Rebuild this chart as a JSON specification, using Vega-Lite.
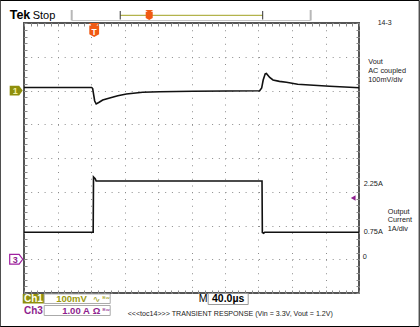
{
 "$schema": "https://vega.github.io/schema/vega-lite/v6.json",
 "width": 335, "height": 270,
 "autosize": {"type": "none"},
 "padding": {"left": 24, "top": 23, "right": 61, "bottom": 34},
 "background": "white",
 "config": {"view": {"stroke": "#555", "strokeWidth": 2}, "font": "Liberation Sans"},
 "resolve": {"scale": {"y": "independent"}, "axis": {"x": "independent", "y": "independent"}},
 "layer": [
  {"data": {"values": [
     {"t":0,"mv":8.9},{"t":80.8,"mv":8.9},{"t":82.0,"mv":5.9},{"t":83.2,"mv":-13.3},{"t":84.4,"mv":-31.1},
     {"t":86.2,"mv":-40.0},{"t":89.2,"mv":-35.6},{"t":94.0,"mv":-28.1},{"t":102.3,"mv":-22.0},{"t":112.0,"mv":-15.5},
     {"t":122.3,"mv":-10.4},{"t":141.7,"mv":-5.3},{"t":161.9,"mv":-3.6},{"t":201.4,"mv":-2.4},{"t":241.7,"mv":-1.5},
     {"t":281.4,"mv":-0.6},{"t":283.8,"mv":7.4},{"t":285.6,"mv":31.1},{"t":288.0,"mv":49.5},{"t":289.4,"mv":50.4},
     {"t":293.4,"mv":38.5},{"t":297.3,"mv":31.1},{"t":305.0,"mv":27.0},{"t":313.3,"mv":24.3},{"t":326.8,"mv":18.4},
     {"t":341.1,"mv":16.3},{"t":365.0,"mv":12.4},{"t":388.8,"mv":9.5},{"t":400,"mv":8.3}
   ]},
   "mark": {"type": "line", "stroke": "#111", "strokeWidth": 1.6},
   "encoding": {
    "x": {"field": "t", "type": "quantitative", "scale": {"domain": [0, 400], "nice": false, "zero": false},
          "axis": {"orient": "bottom", "values": [0,40,80,120,160,200,240,280,320,360,400], "grid": true, "gridDash": [1, 5.75], "gridColor": "#8c8c8c", "ticks": false, "labels": false, "domain": false, "title": null}},
    "y": {"field": "mv", "type": "quantitative", "scale": {"domain": [-600, 200], "nice": false, "zero": false},
          "axis": {"orient": "left", "values": [-600,-500,-400,-300,-200,-100,0,100,200], "grid": true, "gridDash": [1, 5.7], "gridColor": "#8c8c8c", "ticks": false, "labels": false, "domain": false, "title": null}}
   }},
  {"data": {"values": [
     {"t":0,"a":0.8},{"t":82.6,"a":0.8},{"t":83.0,"a":2.44},{"t":85.0,"a":2.39},{"t":86.2,"a":2.32},
     {"t":284.2,"a":2.32},{"t":284.6,"a":0.79},{"t":286.2,"a":0.77},{"t":287.4,"a":0.8},{"t":400,"a":0.8}
   ]},
   "mark": {"type": "line", "stroke": "#111", "strokeWidth": 1.6},
   "encoding": {
    "x": {"field": "t", "type": "quantitative", "scale": {"domain": [0, 400], "nice": false, "zero": false},
          "axis": {"orient": "top", "offset": -3, "values": [0,8,16,24,32,40,48,56,64,72,80,88,96,104,112,120,128,136,144,152,160,168,176,184,192,200,208,216,224,232,240,248,256,264,272,280,288,296,304,312,320,328,336,344,352,360,368,376,384,392,400], "ticks": true, "tickSize": 3, "tickColor": "#888", "labels": false, "domain": false, "grid": false, "title": null}},
    "y": {"field": "a", "type": "quantitative", "scale": {"domain": [-1, 7], "nice": false, "zero": false},
          "axis": {"orient": "right", "offset": -3, "values": [-1,-0.8,-0.6,-0.4,-0.2,0,0.2,0.4,0.6,0.8,1,1.2,1.4,1.6,1.8,2,2.2,2.4,2.6,2.8,3,3.2,3.4,3.6,3.8,4,4.2,4.4,4.6,4.8,5,5.2,5.4,5.6,5.8,6,6.2,6.4,6.6,6.8,7], "ticks": true, "tickSize": 3, "tickColor": "#888", "labels": false, "domain": false, "grid": false, "title": null}}
   }},
  {"data": {"values": [{}]}, "mark": {"type": "rect", "filled": false, "stroke": "#000", "strokeWidth": 1},
   "encoding": {
    "x": {"datum": -28.42, "type": "quantitative", "scale": {"domain": [0, 400], "nice": false, "zero": false},
          "axis": {"orient": "bottom", "offset": -3, "values": [0,8,16,24,32,40,48,56,64,72,80,88,96,104,112,120,128,136,144,152,160,168,176,184,192,200,208,216,224,232,240,248,256,264,272,280,288,296,304,312,320,328,336,344,352,360,368,376,384,392,400], "ticks": true, "tickSize": 3, "tickColor": "#888", "labels": false, "domain": false, "grid": false, "title": null}},
    "x2": {"datum": 471.88},
    "y": {"datum": 266.67, "type": "quantitative", "scale": {"domain": [-600, 200], "nice": false, "zero": false},
          "axis": {"orient": "left", "offset": -3, "values": [-600,-580,-560,-540,-520,-500,-480,-460,-440,-420,-400,-380,-360,-340,-320,-300,-280,-260,-240,-220,-200,-180,-160,-140,-120,-100,-80,-60,-40,-20,0,20,40,60,80,100,120,140,160,180,200], "ticks": true, "tickSize": 3, "tickColor": "#888", "labels": false, "domain": false, "grid": false, "title": null}},
    "y2": {"datum": -699.26}
   }},
  {"data": {"values": [{}]}, "mark": {"type": "text", "text": "Tek", "fontSize": 12.5, "fontWeight": "bold", "align": "left", "baseline": "alphabetic", "fill": "#000"},
   "encoding": {"x": {"datum": -17.07, "type": "quantitative", "axis": null}, "y": {"datum": 211.85, "type": "quantitative", "scale": {"domain": [-600, 200], "nice": false, "zero": false}, "axis": null}}},
  {"data": {"values": [{}]}, "mark": {"type": "text", "text": "Stop", "fontSize": 11, "align": "left", "baseline": "alphabetic", "fill": "#000"},
   "encoding": {"x": {"datum": 10.39, "type": "quantitative", "axis": null}, "y": {"datum": 211.85, "type": "quantitative", "scale": {"domain": [-600, 200], "nice": false, "zero": false}, "axis": null}}},
  {"data": {"values": [{}]}, "mark": {"type": "rule", "stroke": "#c4c4c4", "strokeWidth": 1},
   "encoding": {"x": {"datum": 56.96, "type": "quantitative", "axis": null}, "x2": {"datum": 342.3}, "y": {"datum": 207.4, "type": "quantitative", "scale": {"domain": [-600, 200], "nice": false, "zero": false}, "axis": null}}},
  {"data": {"values": [{}]}, "mark": {"type": "rule", "stroke": "#b8b8b8", "strokeWidth": 2},
   "encoding": {"x": {"datum": 56.96, "type": "quantitative", "axis": null}, "y": {"datum": 238.5, "type": "quantitative", "scale": {"domain": [-600, 200], "nice": false, "zero": false}, "axis": null}, "y2": {"datum": 207.4}}},
  {"data": {"values": [{}]}, "mark": {"type": "rule", "stroke": "#b8b8b8", "strokeWidth": 2},
   "encoding": {"x": {"datum": 342.3, "type": "quantitative", "axis": null}, "y": {"datum": 238.5, "type": "quantitative", "scale": {"domain": [-600, 200], "nice": false, "zero": false}, "axis": null}, "y2": {"datum": 207.4}}},
  {"data": {"values": [{}]}, "mark": {"type": "rule", "stroke": "#a0a020", "strokeWidth": 1},
   "encoding": {"x": {"datum": 114.9, "type": "quantitative", "axis": null}, "x2": {"datum": 285.0}, "y": {"datum": 222.8, "type": "quantitative", "scale": {"domain": [-600, 200], "nice": false, "zero": false}, "axis": null}}},
  {"data": {"values": [{}]}, "mark": {"type": "rule", "stroke": "#333", "strokeWidth": 1},
   "encoding": {"x": {"datum": 114.9, "type": "quantitative", "axis": null}, "y": {"datum": 235.6, "type": "quantitative", "scale": {"domain": [-600, 200], "nice": false, "zero": false}, "axis": null}, "y2": {"datum": 210.4}}},
  {"data": {"values": [{}]}, "mark": {"type": "rule", "stroke": "#333", "strokeWidth": 1},
   "encoding": {"x": {"datum": 285.0, "type": "quantitative", "axis": null}, "y": {"datum": 235.6, "type": "quantitative", "scale": {"domain": [-600, 200], "nice": false, "zero": false}, "axis": null}, "y2": {"datum": 210.4}}},
  {"data": {"values": [{}]}, "mark": {"type": "point", "filled": true, "fill": "#f05a14", "opacity": 1, "size": 100, "shape": "M-0.8,-1L0.8,-1L0.3,-0.65L0.7,-0.65L0.7,0.6L0,1L-0.7,0.6L-0.7,-0.65L-0.3,-0.65Z"},
   "encoding": {"x": {"datum": 149.5, "type": "quantitative", "axis": null}, "y": {"datum": 223.7, "type": "quantitative", "scale": {"domain": [-600, 200], "nice": false, "zero": false}, "axis": null}}},
  {"data": {"values": [{}]}, "mark": {"type": "point", "filled": true, "fill": "#f05a14", "opacity": 1, "size": 196, "shape": "M-0.8,-1L0.8,-1L0.3,-0.65L0.7,-0.65L0.7,0.6L0,1L-0.7,0.6L-0.7,-0.65L-0.3,-0.65Z"},
   "encoding": {"x": {"datum": 83.82, "type": "quantitative", "axis": null}, "y": {"datum": 179.3, "type": "quantitative", "scale": {"domain": [-600, 200], "nice": false, "zero": false}, "axis": null}}},
  {"data": {"values": [{}]}, "mark": {"type": "text", "text": "T", "fontSize": 8.5, "fontWeight": "bold", "align": "center", "baseline": "alphabetic", "fill": "#fff"},
   "encoding": {"x": {"datum": 83.82, "type": "quantitative", "axis": null}, "y": {"datum": 165.9, "type": "quantitative", "scale": {"domain": [-600, 200], "nice": false, "zero": false}, "axis": null}}},
  {"data": {"values": [{}]}, "mark": {"type": "text", "text": "14-3", "fontSize": 7, "align": "center", "baseline": "alphabetic", "fill": "#222"},
   "encoding": {"x": {"datum": 430.7, "type": "quantitative", "axis": null}, "y": {"datum": 194.1, "type": "quantitative", "scale": {"domain": [-600, 200], "nice": false, "zero": false}, "axis": null}}},
  {"data": {"values": [{}]}, "mark": {"type": "text", "text": "Vout", "fontSize": 7.3, "align": "left", "baseline": "alphabetic", "fill": "#222"},
   "encoding": {"x": {"datum": 411.0, "type": "quantitative", "axis": null}, "y": {"datum": 77.9, "type": "quantitative", "scale": {"domain": [-600, 200], "nice": false, "zero": false}, "axis": null}}},
  {"data": {"values": [{}]}, "mark": {"type": "text", "text": "AC coupled", "fontSize": 7.3, "align": "left", "baseline": "alphabetic", "fill": "#222"},
   "encoding": {"x": {"datum": 411.0, "type": "quantitative", "axis": null}, "y": {"datum": 51.3, "type": "quantitative", "scale": {"domain": [-600, 200], "nice": false, "zero": false}, "axis": null}}},
  {"data": {"values": [{}]}, "mark": {"type": "text", "text": "100mV/div", "fontSize": 7.3, "align": "left", "baseline": "alphabetic", "fill": "#222"},
   "encoding": {"x": {"datum": 411.0, "type": "quantitative", "axis": null}, "y": {"datum": 25.5, "type": "quantitative", "scale": {"domain": [-600, 200], "nice": false, "zero": false}, "axis": null}}},
  {"data": {"values": [{}]}, "mark": {"type": "rect", "fill": "#8f8f0c"},
   "encoding": {"x": {"datum": -1.55, "type": "quantitative", "axis": null}, "x2": {"datum": 24.12}, "y": {"datum": -602.96, "type": "quantitative", "scale": {"domain": [-600, 200], "nice": false, "zero": false}, "axis": null}, "y2": {"datum": -631.1}}},
  {"data": {"values": [{}]}, "mark": {"type": "text", "text": "Ch1", "fontSize": 10, "fontWeight": "bold", "align": "center", "baseline": "alphabetic", "fill": "#fffff0"},
   "encoding": {"x": {"datum": 11.34, "type": "quantitative", "axis": null}, "y": {"datum": -628.1, "type": "quantitative", "scale": {"domain": [-600, 200], "nice": false, "zero": false}, "axis": null}}},
  {"data": {"values": [{}]}, "mark": {"type": "rect", "fill": "#fff", "stroke": "#aaa", "strokeWidth": 1},
   "encoding": {"x": {"datum": 24.12, "type": "quantitative", "axis": null}, "x2": {"datum": 102.93}, "y": {"datum": -602.96, "type": "quantitative", "scale": {"domain": [-600, 200], "nice": false, "zero": false}, "axis": null}, "y2": {"datum": -631.1}}},
  {"data": {"values": [{}]}, "mark": {"type": "text", "text": "100mV", "fontSize": 9.5, "fontWeight": "bold", "align": "left", "baseline": "alphabetic", "fill": "#9a9a10"},
   "encoding": {"x": {"datum": 38.45, "type": "quantitative", "axis": null}, "y": {"datum": -628.1, "type": "quantitative", "scale": {"domain": [-600, 200], "nice": false, "zero": false}, "axis": null}}},
  {"data": {"values": [{}]}, "mark": {"type": "text", "text": "∿", "font": "DejaVu Sans", "fontSize": 9, "align": "left", "baseline": "alphabetic", "fill": "#9a9a10"},
   "encoding": {"x": {"datum": 82.0, "type": "quantitative", "axis": null}, "y": {"datum": -628.1, "type": "quantitative", "scale": {"domain": [-600, 200], "nice": false, "zero": false}, "axis": null}}},
  {"data": {"values": [{}]}, "mark": {"type": "text", "text": "ᴮʷ", "font": "DejaVu Sans", "fontSize": 8, "align": "left", "baseline": "alphabetic", "fill": "#9a9a10"},
   "encoding": {"x": {"datum": 93.4, "type": "quantitative", "axis": null}, "y": {"datum": -628.1, "type": "quantitative", "scale": {"domain": [-600, 200], "nice": false, "zero": false}, "axis": null}}},
  {"data": {"values": [{}]}, "mark": {"type": "text", "text": "Ch3", "fontSize": 10, "fontWeight": "bold", "align": "center", "baseline": "alphabetic", "fill": "#8e1f8e"},
   "encoding": {"x": {"datum": 11.34, "type": "quantitative", "axis": null}, "y": {"datum": -663.7, "type": "quantitative", "scale": {"domain": [-600, 200], "nice": false, "zero": false}, "axis": null}}},
  {"data": {"values": [{}]}, "mark": {"type": "rect", "fill": "#fff", "stroke": "#aaa", "strokeWidth": 1},
   "encoding": {"x": {"datum": 24.12, "type": "quantitative", "axis": null}, "x2": {"datum": 102.93}, "y": {"datum": -637.0, "type": "quantitative", "scale": {"domain": [-600, 200], "nice": false, "zero": false}, "axis": null}, "y2": {"datum": -666.7}}},
  {"data": {"values": [{}]}, "mark": {"type": "text", "text": "1.00 A", "fontSize": 9.5, "fontWeight": "bold", "align": "left", "baseline": "alphabetic", "fill": "#8e1f8e"},
   "encoding": {"x": {"datum": 45.6, "type": "quantitative", "axis": null}, "y": {"datum": -663.7, "type": "quantitative", "scale": {"domain": [-600, 200], "nice": false, "zero": false}, "axis": null}}},
  {"data": {"values": [{}]}, "mark": {"type": "text", "text": "Ω", "fontSize": 9.5, "fontWeight": "bold", "align": "left", "baseline": "alphabetic", "fill": "#8e1f8e"},
   "encoding": {"x": {"datum": 82.0, "type": "quantitative", "axis": null}, "y": {"datum": -663.7, "type": "quantitative", "scale": {"domain": [-600, 200], "nice": false, "zero": false}, "axis": null}}},
  {"data": {"values": [{}]}, "mark": {"type": "text", "text": "ᴮʷ", "font": "DejaVu Sans", "fontSize": 8, "align": "left", "baseline": "alphabetic", "fill": "#8e1f8e"},
   "encoding": {"x": {"datum": 93.4, "type": "quantitative", "axis": null}, "y": {"datum": -663.7, "type": "quantitative", "scale": {"domain": [-600, 200], "nice": false, "zero": false}, "axis": null}}},
  {"data": {"values": [{}]}, "mark": {"type": "text", "text": "M", "fontSize": 10.5, "align": "left", "baseline": "alphabetic", "fill": "#000"},
   "encoding": {"x": {"datum": 208.6, "type": "quantitative", "axis": null}, "y": {"datum": -628.1, "type": "quantitative", "scale": {"domain": [-600, 200], "nice": false, "zero": false}, "axis": null}}},
  {"data": {"values": [{}]}, "mark": {"type": "rect", "fill": "#fff", "stroke": "#999", "strokeWidth": 1},
   "encoding": {"x": {"datum": 219.9, "type": "quantitative", "axis": null}, "x2": {"datum": 267.7}, "y": {"datum": -601.5, "type": "quantitative", "scale": {"domain": [-600, 200], "nice": false, "zero": false}, "axis": null}, "y2": {"datum": -634.1}}},
  {"data": {"values": [{}]}, "mark": {"type": "text", "text": "40.0µs", "fontSize": 10.5, "fontWeight": "bold", "align": "center", "baseline": "alphabetic", "fill": "#000"},
   "encoding": {"x": {"datum": 243.8, "type": "quantitative", "axis": null}, "y": {"datum": -628.1, "type": "quantitative", "scale": {"domain": [-600, 200], "nice": false, "zero": false}, "axis": null}}},
  {"data": {"values": [{}]}, "mark": {"type": "text", "text": "<<<toc14>>> TRANSIENT RESPONSE (Vin = 3.3V, Vout = 1.2V)", "fontSize": 7.1, "align": "left", "baseline": "alphabetic", "fill": "#222"},
   "encoding": {"x": {"datum": 123.8, "type": "quantitative", "axis": null}, "y": {"datum": -668.1, "type": "quantitative", "scale": {"domain": [-600, 200], "nice": false, "zero": false}, "axis": null}}},
  {"data": {"values": [{}]}, "mark": {"type": "point", "filled": true, "fill": "#8f8f0c", "opacity": 1, "size": 169, "shape": "M-1,-0.75L0.45,-0.75L1,0L0.45,0.75L-1,0.75Z"},
   "encoding": {"x": {"datum": -9.31, "type": "quantitative", "axis": null}, "y": {"datum": 0, "type": "quantitative", "scale": {"domain": [-600, 200], "nice": false, "zero": false}, "axis": null}}},
  {"data": {"values": [{}]}, "mark": {"type": "text", "text": "1", "fontSize": 9, "fontWeight": "bold", "align": "center", "baseline": "alphabetic", "fill": "#f0f0a0"},
   "encoding": {"x": {"datum": -10.5, "type": "quantitative", "axis": null}, "y": {"datum": -11.85, "type": "quantitative", "scale": {"domain": [-600, 200], "nice": false, "zero": false}, "axis": null}}},
  {"data": {"values": [{}]}, "mark": {"type": "point", "filled": true, "fill": "#fff", "stroke": "#a020a0", "strokeWidth": 1.2, "opacity": 1, "size": 169, "shape": "M-1,-0.75L0.45,-0.75L1,0L0.45,0.75L-1,0.75Z"},
   "encoding": {"x": {"datum": -9.31, "type": "quantitative", "axis": null}, "y": {"datum": 0, "type": "quantitative", "scale": {"domain": [-1, 7], "nice": false, "zero": false}, "axis": null}}},
  {"data": {"values": [{}]}, "mark": {"type": "text", "text": "3", "fontSize": 9, "fontWeight": "bold", "align": "center", "baseline": "alphabetic", "fill": "#8e1f8e"},
   "encoding": {"x": {"datum": -10.5, "type": "quantitative", "axis": null}, "y": {"datum": -0.1, "type": "quantitative", "scale": {"domain": [-1, 7], "nice": false, "zero": false}, "axis": null}}},
  {"data": {"values": [{}]}, "mark": {"type": "point", "filled": true, "fill": "#8e1f8e", "opacity": 1, "size": 30, "shape": "triangle-left"},
   "encoding": {"x": {"datum": 393.1, "type": "quantitative", "axis": null}, "y": {"datum": 1.815, "type": "quantitative", "scale": {"domain": [-1, 7], "nice": false, "zero": false}, "axis": null}}},
  {"data": {"values": [{}]}, "mark": {"type": "text", "text": "2.25A", "fontSize": 7.3, "align": "left", "baseline": "alphabetic", "fill": "#222"},
   "encoding": {"x": {"datum": 405.6, "type": "quantitative", "axis": null}, "y": {"datum": 2.179, "type": "quantitative", "scale": {"domain": [-1, 7], "nice": false, "zero": false}, "axis": null}}},
  {"data": {"values": [{}]}, "mark": {"type": "text", "text": "Output", "fontSize": 7.3, "align": "left", "baseline": "alphabetic", "fill": "#222"},
   "encoding": {"x": {"datum": 434.3, "type": "quantitative", "axis": null}, "y": {"datum": 1.335, "type": "quantitative", "scale": {"domain": [-1, 7], "nice": false, "zero": false}, "axis": null}}},
  {"data": {"values": [{}]}, "mark": {"type": "text", "text": "Current", "fontSize": 7.3, "align": "left", "baseline": "alphabetic", "fill": "#222"},
   "encoding": {"x": {"datum": 434.3, "type": "quantitative", "axis": null}, "y": {"datum": 1.098, "type": "quantitative", "scale": {"domain": [-1, 7], "nice": false, "zero": false}, "axis": null}}},
  {"data": {"values": [{}]}, "mark": {"type": "text", "text": "1A/div", "fontSize": 7.3, "align": "left", "baseline": "alphabetic", "fill": "#222"},
   "encoding": {"x": {"datum": 434.3, "type": "quantitative", "axis": null}, "y": {"datum": 0.831, "type": "quantitative", "scale": {"domain": [-1, 7], "nice": false, "zero": false}, "axis": null}}},
  {"data": {"values": [{}]}, "mark": {"type": "text", "text": "0.75A", "fontSize": 7.3, "align": "left", "baseline": "alphabetic", "fill": "#222"},
   "encoding": {"x": {"datum": 405.6, "type": "quantitative", "axis": null}, "y": {"datum": 0.742, "type": "quantitative", "scale": {"domain": [-1, 7], "nice": false, "zero": false}, "axis": null}}},
  {"data": {"values": [{}]}, "mark": {"type": "text", "text": "0", "fontSize": 7.3, "align": "left", "baseline": "alphabetic", "fill": "#222"},
   "encoding": {"x": {"datum": 404.4, "type": "quantitative", "axis": null}, "y": {"datum": 0.007, "type": "quantitative", "scale": {"domain": [-1, 7], "nice": false, "zero": false}, "axis": null}}}
 ]
}
